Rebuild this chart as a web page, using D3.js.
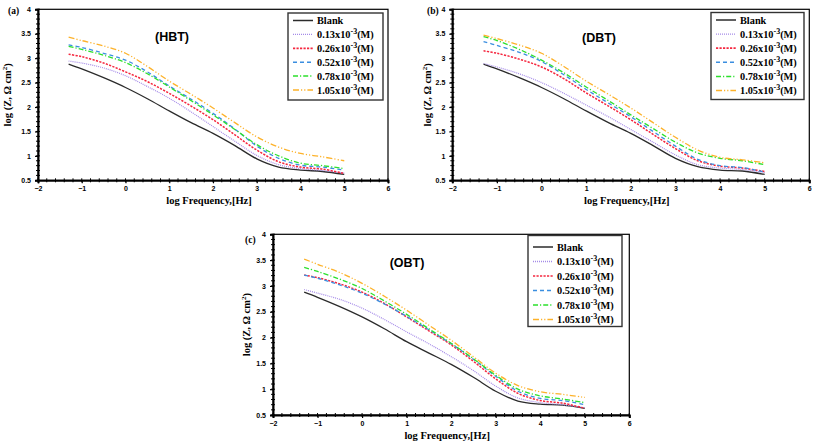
<!DOCTYPE html>
<html>
<head>
<meta charset="utf-8">
<script src="https://cdn.jsdelivr.net/npm/d3@7"></script>
<style>
  body { margin: 0; background: #fff; }
  .tick-lbl { font-family: "Liberation Sans", Arial, sans-serif; font-weight: bold; font-size: 7px; }
  .ser { font-family: "Liberation Serif", "Times New Roman", serif; font-weight: bold; }
</style>
</head>
<body>
<div id="chart"></div>
<script>
// log frequency sample points shared by all curves
const logF = [-1.3, -1, -0.5, 0, 0.5, 1, 1.5, 2, 2.5, 3, 3.5, 4, 4.5, 5];

const seriesNames = ["Blank", "0.13", "0.26", "0.52", "0.78", "1.05"];

// (a) HBT
const hbtBlank = [2.88, 2.78, 2.60, 2.40, 2.17, 1.92, 1.68, 1.46, 1.21, 0.94, 0.77, 0.71, 0.68, 0.62];
const hbt013 = [2.94, 2.90, 2.80, 2.64, 2.42, 2.18, 1.90, 1.60, 1.30, 1.01, 0.82, 0.74, 0.70, 0.65];
const hbt026 = [3.08, 3.03, 2.90, 2.72, 2.52, 2.28, 2.02, 1.74, 1.43, 1.12, 0.88, 0.77, 0.73, 0.64];
const hbt052 = [3.27, 3.22, 3.10, 2.96, 2.72, 2.43, 2.16, 1.87, 1.55, 1.20, 0.95, 0.81, 0.77, 0.71];
const hbt078 = [3.24, 3.18, 3.06, 2.91, 2.68, 2.41, 2.13, 1.84, 1.54, 1.23, 1.00, 0.85, 0.80, 0.74];
const hbt105 = [3.43, 3.36, 3.25, 3.10, 2.83, 2.53, 2.26, 1.98, 1.68, 1.39, 1.18, 1.05, 0.98, 0.90];

// (b) DBT
const dbtBlank = [2.88, 2.78, 2.60, 2.40, 2.17, 1.92, 1.68, 1.46, 1.21, 0.95, 0.78, 0.71, 0.69, 0.62];
const dbt013 = [2.89, 2.82, 2.68, 2.50, 2.28, 2.04, 1.80, 1.54, 1.28, 1.02, 0.82, 0.75, 0.72, 0.66];
const dbt026 = [3.15, 3.10, 2.98, 2.82, 2.58, 2.29, 2.02, 1.74, 1.44, 1.15, 0.90, 0.79, 0.75, 0.68];
const dbt052 = [3.34, 3.26, 3.12, 2.93, 2.66, 2.36, 2.08, 1.80, 1.50, 1.20, 0.93, 0.80, 0.76, 0.67];
const dbt078 = [3.44, 3.36, 3.18, 2.96, 2.70, 2.41, 2.13, 1.84, 1.56, 1.28, 1.06, 0.95, 0.90, 0.82];
const dbt105 = [3.47, 3.40, 3.27, 3.10, 2.83, 2.53, 2.26, 1.98, 1.68, 1.38, 1.12, 0.97, 0.92, 0.86];

// (c) OBT
const obtBlank = [2.88, 2.78, 2.60, 2.40, 2.17, 1.92, 1.70, 1.48, 1.23, 0.96, 0.77, 0.71, 0.69, 0.63];
const obt013 = [2.93, 2.86, 2.74, 2.57, 2.35, 2.11, 1.88, 1.63, 1.36, 1.06, 0.83, 0.74, 0.70, 0.64];
const obt026 = [3.21, 3.16, 3.04, 2.88, 2.66, 2.40, 2.13, 1.86, 1.54, 1.20, 0.92, 0.78, 0.73, 0.63];
const obt052 = [3.21, 3.15, 3.02, 2.86, 2.65, 2.41, 2.15, 1.88, 1.58, 1.25, 0.96, 0.82, 0.78, 0.70];
const obt078 = [3.36, 3.28, 3.13, 2.95, 2.71, 2.45, 2.17, 1.89, 1.59, 1.27, 1.00, 0.87, 0.81, 0.74];
const obt105 = [3.52, 3.42, 3.26, 3.05, 2.80, 2.53, 2.24, 1.95, 1.63, 1.31, 1.07, 0.95, 0.90, 0.84];

const xTicks = [-2, -1, 0, 1, 2, 3, 4, 5, 6];
const yTicks = [0.5, 1, 1.5, 2, 2.5, 3, 3.5, 4];

const styles = [
  {color: "#2b2b2b", dash: null, w: 1.3},
  {color: "#a58be8", dash: "1,1", w: 1.2},
  {color: "#f5273f", dash: "2.2,1.3", w: 1.5},
  {color: "#3a8ee0", dash: "4,3", w: 1.3},
  {color: "#2de02d", dash: "5,2,1.2,2", w: 1.3},
  {color: "#fdb22a", dash: "6,2,1.2,2,1.2,2", w: 1.3}
];

const svg = d3.select('#chart').append('svg')
  .attr('width', 813)
  .attr('height', 443);

function drawPanel(p, data) {
  const x = d3.scaleLinear().domain([-2, 6]).range([p.x0, p.x1]);
  const y = d3.scaleLinear().domain([0.5, 4]).range([p.yb, p.yt]);
  const g = svg.append('g');

  // frame
  g.append('rect')
    .attr('x', p.x0).attr('y', p.yt)
    .attr('width', p.x1 - p.x0).attr('height', p.yb - p.yt)
    .attr('fill', 'none').attr('stroke', '#000').attr('stroke-width', 1.2);

  // minor ticks
  g.selectAll('.mx').data(d3.range(-2, 6.001, 0.2)).enter().append('line')
    .attr('x1', d => x(d)).attr('x2', d => x(d))
    .attr('y1', p.yb - 2).attr('y2', p.yb + 2)
    .attr('stroke', '#000').attr('stroke-width', 1);
  g.selectAll('.my').data(d3.range(0.5, 4.001, 0.1)).enter().append('line')
    .attr('y1', d => y(d)).attr('y2', d => y(d))
    .attr('x1', p.x0 - 2).attr('x2', p.x0 + 2)
    .attr('stroke', '#000').attr('stroke-width', 1);

  // axes
  const xa = g.append('g').attr('transform', `translate(0,${p.yb})`)
    .call(d3.axisBottom(x).tickValues(xTicks).tickSize(3).tickFormat(d3.format('d')));
  const ya = g.append('g').attr('transform', `translate(${p.x0},0)`)
    .call(d3.axisLeft(y).tickValues(yTicks).tickSize(3).tickFormat(d => d));
  [xa, ya].forEach(a => {
    a.select('.domain').attr('stroke', '#000').attr('stroke-width', 2);
    a.selectAll('.tick line').attr('stroke', '#000').attr('stroke-width', 1.2);
    a.selectAll('.tick text').attr('class', 'tick-lbl').attr('fill', '#000');
  });
  xa.selectAll('.tick text').attr('dy', '0.55em').attr('y', 7);
  ya.selectAll('.tick text').attr('x', -7);

  // curves
  const line = d3.line()
    .x((d, i) => x(logF[i]))
    .y(d => y(d))
    .curve(d3.curveCatmullRom.alpha(0.5));
  data.forEach((s, i) => {
    g.append('path')
      .attr('d', line(s))
      .attr('fill', 'none')
      .attr('stroke', styles[i].color)
      .attr('stroke-width', styles[i].w)
      .attr('stroke-dasharray', styles[i].dash);
  });

  // labels
  g.append('text').attr('class', 'ser').attr('x', p.lx).attr('y', p.ly)
    .attr('font-size', 9.5).text(p.letter);
  g.append('text').attr('x', p.tx).attr('y', p.ty)
    .attr('text-anchor', 'middle')
    .attr('font-family', '"Liberation Sans", Arial, sans-serif')
    .attr('font-weight', 'bold').attr('font-size', 12.5).text(p.title);

  g.append('text').attr('class', 'ser')
    .attr('x', (p.x0 + p.x1) / 2 - 4).attr('y', p.yb + 24)
    .attr('text-anchor', 'middle').attr('font-size', 10.5)
    .text('log Frequency,[Hz]');

  const yl = g.append('text').attr('class', 'ser')
    .attr('transform', `translate(${p.yx},${(p.yt + p.yb) / 2}) rotate(-90)`)
    .attr('text-anchor', 'middle').attr('font-size', 10.5);
  yl.append('tspan').text('log (Z, Ω cm');
  yl.append('tspan').attr('font-size', 7).attr('dy', -4).text('2');
  yl.append('tspan').attr('dy', 4).text(')');

  // legend
  const lg = g.append('g').attr('transform', `translate(${p.bx},${p.by})`);
  lg.append('rect').attr('width', p.bw).attr('height', p.bh)
    .attr('fill', '#fff').attr('stroke', '#333').attr('stroke-width', 1.4);
  seriesNames.forEach((n, i) => {
    const yy = p.r0 + i * p.rs;
    lg.append('line').attr('x1', 5).attr('x2', 25).attr('y1', yy).attr('y2', yy)
      .attr('stroke', styles[i].color).attr('stroke-width', styles[i].w + 0.2)
      .attr('stroke-dasharray', styles[i].dash);
    const t = lg.append('text').attr('class', 'ser').attr('x', 29).attr('y', yy + 3.5)
      .attr('font-size', 10.3);
    if (i === 0) {
      t.text('Blank');
    } else {
      t.append('tspan').text(n + 'x10');
      t.append('tspan').attr('font-size', 8).attr('dy', -4).text('-3');
      t.append('tspan').attr('dy', 4).text('(M)');
    }
  });
}

drawPanel({x0: 38, x1: 388, yt: 9.3, yb: 180.3, letter: '(a)', lx: 8, ly: 14,
  title: '(HBT)', tx: 172, ty: 41, yx: 11,
  bx: 288, by: 13, bw: 95, bh: 87, r0: 7.5, rs: 13.9},
  [hbtBlank, hbt013, hbt026, hbt052, hbt078, hbt105]);

drawPanel({x0: 452.3, x1: 809.3, yt: 9.3, yb: 180.3, letter: '(b)', lx: 427, ly: 14,
  title: '(DBT)', tx: 599, ty: 42, yx: 431,
  bx: 711, by: 12.5, bw: 93, bh: 87, r0: 7.5, rs: 14.1},
  [dbtBlank, dbt013, dbt026, dbt052, dbt078, dbt105]);

drawPanel({x0: 273, x1: 629.3, yt: 234.3, yb: 415, letter: '(c)', lx: 245, ly: 243,
  title: '(OBT)', tx: 407, ty: 267, yx: 250,
  bx: 528, by: 235.5, bw: 94, bh: 91, r0: 11.5, rs: 14.5},
  [obtBlank, obt013, obt026, obt052, obt078, obt105]);
</script>
</body>
</html>
